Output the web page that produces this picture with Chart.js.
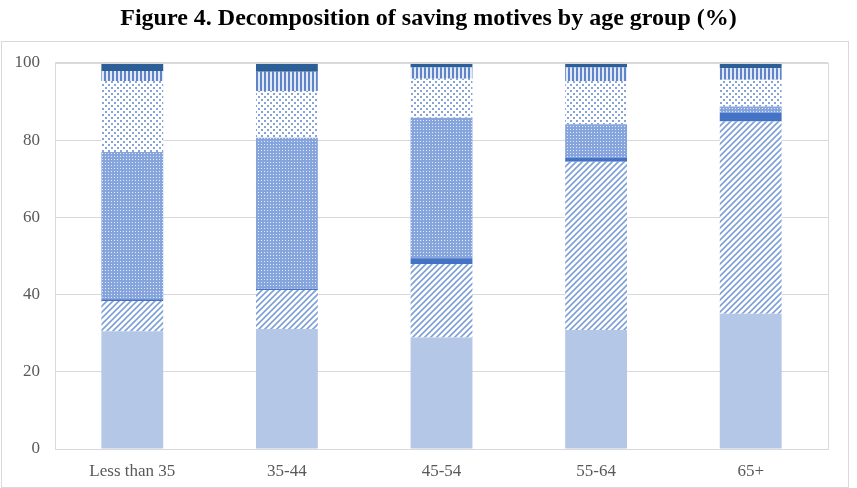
<!DOCTYPE html>
<html>
<head>
<meta charset="utf-8">
<script src="https://cdn.jsdelivr.net/npm/chart.js@4.4.1/dist/chart.umd.min.js"></script>
<style>
  html, body { margin: 0; padding: 0; background: #fff; }
  #wrap { width: 857px; height: 488px; }
</style>
</head>
<body>
<div id="wrap"><canvas id="motivesChart" width="857" height="488"></canvas></div>
<script>
const categories = ['Less than 35', '35-44', '45-54', '55-64', '65+'];
const motive1 = [30.5, 31.1, 28.9, 30.8, 35.0];
const motive2 = [7.8, 10.1, 19.0, 43.6, 49.8];
const motive3 = [0.5, 0.3, 1.5, 1.1, 2.2];
const motive4 = [38.1, 39.1, 36.4, 8.6, 1.7];
const motive5 = [18.4, 12.1, 10.1, 11.1, 6.9];
const motive6 = [2.6, 5.0, 2.9, 3.6, 3.0];
const motive7 = [2.1, 2.3, 1.2, 1.2, 1.4];
const yTicks = [0, 20, 40, 60, 80, 100];

// small tiles for the Excel-like pattern fills
function makePattern(w, h, draw) {
  const c = document.createElement('canvas');
  c.width = w;
  c.height = h;
  const g = c.getContext('2d');
  draw(g);
  return g.createPattern(c, 'repeat');
}

const hatchFill = makePattern(6, 6, g => {
  g.fillStyle = '#ffffff';
  g.fillRect(0, 0, 6, 6);
  g.strokeStyle = '#7f9fd8';
  g.lineWidth = 1.6;
  g.beginPath();
  g.moveTo(-1, 7); g.lineTo(7, -1);
  g.moveTo(-4, 4); g.lineTo(4, -4);
  g.moveTo(2, 10); g.lineTo(10, 2);
  g.stroke();
});

const checkerFill = makePattern(3, 3, g => {
  g.fillStyle = '#86a5dc';
  g.fillRect(0, 0, 3, 3);
  g.fillStyle = '#e3eaf7';
  g.fillRect(0, 0, 1, 1);
});

const dotFill = makePattern(6, 6, g => {
  g.fillStyle = '#ffffff';
  g.fillRect(0, 0, 6, 6);
  g.fillStyle = '#86a3da';
  g.fillRect(0, 0, 2, 2);
  g.fillRect(3, 3, 2, 2);
});

const stripeFill = makePattern(4, 4, g => {
  g.fillStyle = '#e2e9f6';
  g.fillRect(0, 0, 4, 4);
  g.fillStyle = '#5f84ca';
  g.fillRect(0, 0, 2, 4);
});

// outer frame and plot border
const framePlugin = {
  id: 'frame',
  afterDraw(chart) {
    const ctx = chart.ctx;
    const a = chart.chartArea;
    ctx.save();
    ctx.strokeStyle = '#d9d9d9';
    ctx.lineWidth = 1;
    ctx.strokeRect(Math.round(a.left) + 0.5, Math.round(a.top) + 0.5,
      Math.round(a.right - a.left), Math.round(a.bottom - a.top));
    ctx.strokeRect(1.5, 41.5, 847, 446);
    ctx.restore();
  }
};

const ctx = document.getElementById('motivesChart').getContext('2d');
new Chart(ctx, {
  type: 'bar',
  data: {
    labels: categories,
    datasets: [
      { label: 'Motive 1', data: motive1, backgroundColor: '#b4c7e7' },
      { label: 'Motive 2', data: motive2, backgroundColor: hatchFill },
      { label: 'Motive 3', data: motive3, backgroundColor: '#4472c4' },
      { label: 'Motive 4', data: motive4, backgroundColor: checkerFill },
      { label: 'Motive 5', data: motive5, backgroundColor: dotFill },
      { label: 'Motive 6', data: motive6, backgroundColor: stripeFill },
      { label: 'Motive 7', data: motive7, backgroundColor: '#2c5e97' }
    ]
  },
  options: {
    responsive: false,
    animation: false,
    barPercentage: 0.4,
    categoryPercentage: 1,
    borderWidth: 0,
    layout: {
      padding: 0
    },
    scales: {
      x: {
        stacked: true,
        grid: { display: false },
        border: { display: false },
        ticks: {
          color: '#595959',
          padding: 4,
          font: { family: 'Liberation Serif', size: 17 }
        },
        afterFit(scale) { scale.height = 39; }
      },
      y: {
        stacked: true,
        min: 0,
        max: 100,
        afterBuildTicks(scale) {
          scale.ticks = yTicks.map(v => ({ value: v }));
        },
        grid: { color: '#d9d9d9', drawTicks: false },
        border: { display: false },
        ticks: {
          color: '#595959',
          padding: 15,
          font: { family: 'Liberation Serif', size: 17 }
        },
        afterFit(scale) { scale.width = 55; }
      },
      // empty right-hand axis, only reserves the right margin
      spacer: {
        position: 'right',
        min: 0,
        max: 100,
        grid: { display: false },
        border: { display: false },
        ticks: { display: false },
        afterFit(scale) { scale.width = 29; }
      }
    },
    plugins: {
      legend: { display: false },
      tooltip: { enabled: false },
      title: {
        display: true,
        text: 'Figure 4. Decomposition of saving motives by age group (%)',
        color: '#000000',
        font: { family: 'Liberation Serif', size: 24, weight: 'bold' },
        padding: { top: 4, bottom: 30 }
      }
    }
  },
  plugins: [framePlugin]
});
</script>
</body>
</html>
